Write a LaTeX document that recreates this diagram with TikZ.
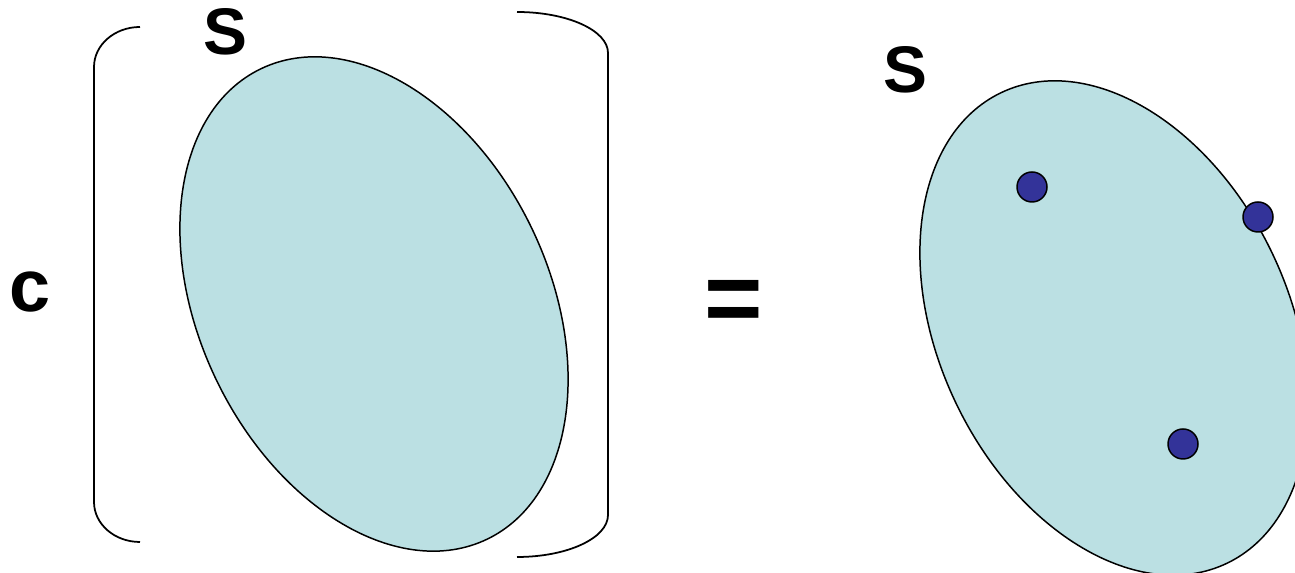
\documentclass[tikz,border=0pt]{standalone}
\usepackage{fontspec}
\setmainfont{Liberation Sans}
\usetikzlibrary{positioning}
\definecolor{pool}{RGB}{187,224,227}
\definecolor{ink}{RGB}{51,51,153}

\begin{document}
\begin{tikzpicture}[x=0.02cm,y=0.02cm,
    setline/.style={draw=black,line width=0.85pt,fill=pool},
    brace/.style={draw=black,line width=1pt},
    lbl/.style={font=\bfseries,inner sep=0pt,anchor=base}]
  \useasboundingbox (0,0) rectangle (1295,573);
  % bracket around the set
  \draw[brace] (140,546) arc[start angle=90,end angle=180,x radius=46,y radius=40]
    -- (94,71) arc[start angle=180,end angle=270,x radius=46,y radius=40];
  \draw[brace] (517,561) arc[start angle=90,end angle=0,x radius=91,y radius=41]
    -- (608,58) arc[start angle=0,end angle=-90,x radius=91,y radius=42];
  % the two sets
  \draw[setline,rotate around={25.7:(374,269)}] (374,269) ellipse[x radius=175,y radius=261];
  \draw[setline,rotate around={25.7:(1114,245)}] (1114,245) ellipse[x radius=175,y radius=261];
  \foreach \px/\py [count=\i] in {1032/386,1258/356,1183/129}
    \node[circle,draw=black,line width=0.85pt,fill=ink,minimum size=0.6cm,inner sep=0pt] (p\i) at (\px,\py) {};
  % labels
  \node[lbl,font=\bfseries\fontsize{37.5}{40}\selectfont] (sleft) at (225,518) {S};
  \node[lbl,font=\bfseries\fontsize{37.5}{40}\selectfont] (sright) at (905,480) {S};
  \node[lbl,font=\bfseries\fontsize{42}{44}\selectfont] (cnst) at (30,261) {c};
  \node[lbl,font=\bfseries\fontsize{57}{60}\selectfont] (eq) at (734,240) {=};
\end{tikzpicture}
\end{document}
